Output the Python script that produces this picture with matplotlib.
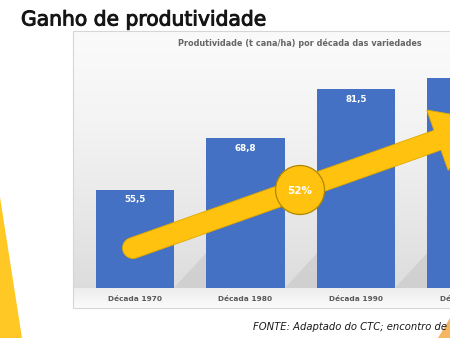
import numpy as np
import matplotlib
matplotlib.use("Agg")
import matplotlib.pyplot as plt
import matplotlib.patheffects as pe
from matplotlib.patches import Polygon, Circle, Rectangle

# ---- data ----
categories = ["Década 1970", "Década 1980", "Década 1990", "Década 2000"]
values = [55.5, 68.8, 81.5, 84.4]
value_labels = ["55,5", "68,8", "81,5", "84,4"]
gain_label = "52%"
slide_title = "Ganho de produtividade"
chart_title = "Produtividade (t cana/ha) por década das variedades"
source_text = "FONTE: Adaptado do CTC; encontro de"

W, H = 450, 338
fig = plt.figure(figsize=(W / 100, H / 100), dpi=100)
fig.patch.set_facecolor("white")

def fx(px):
    return px / W

def fy(py):
    return 1 - py / H

# ---- background (pixel coordinate overlay) ----
bg = fig.add_axes([0, 0, 1, 1], zorder=0)
bg.axis("off")

grad = np.linspace(0, 1, 256)[:, None]
top_c = np.array([0.98, 0.98, 0.98])
bot_c = np.array([0.865, 0.865, 0.865])
img = top_c + (bot_c - top_c) * grad[..., None] ** 1.4
img = np.repeat(img, 2, axis=1)
bg.imshow(img, extent=(73, 460, 288, 31), aspect="auto", zorder=1)
floor = np.linspace(0, 1, 64)[:, None]
f_top = np.array([0.93, 0.93, 0.93])
f_bot = np.array([0.985, 0.985, 0.985])
fimg = f_top + (f_bot - f_top) * floor[..., None]
fimg = np.repeat(fimg, 2, axis=1)
bg.imshow(fimg, extent=(73, 460, 308, 288), aspect="auto", zorder=1)
bg.add_patch(Rectangle((73, 31), 390, 277, fill=False, edgecolor="#d6d6d6", lw=0.8, zorder=2))
bg.set_xlim(0, W)
bg.set_ylim(H, 0)

bg.add_patch(Polygon([(0, 197), (0, 338), (22, 338)], closed=True,
                     facecolor="#FFC825", edgecolor="none", zorder=2))
bg.add_patch(Polygon([(438, 338), (450, 318), (450, 338)], closed=True,
                     facecolor="#F2A43A", edgecolor="none", alpha=0.8, zorder=2))

# ---- chart axes (extends past the right edge, like the cropped slide) ----
ymin = 30
px_per_unit = 3.87
ytop = ymin + (288.3 - 31) / px_per_unit
spacing = 110.5
x0 = 135
right_px = 520
ax = fig.add_axes([fx(73), fy(288.3), fx(right_px) - fx(73), fy(31) - fy(288.3)], zorder=2)
ax.set_facecolor("none")
xs = np.arange(len(categories))

for i, v in enumerate(values):
    sx = i + 0.3545
    ax.add_patch(Polygon([(sx, ymin), (sx + 0.29, ymin), (sx + 0.29, ymin + 9)], closed=True,
                         facecolor="#c8c8c8", edgecolor="none", alpha=0.6, zorder=1))

ax.bar(xs, np.array(values) - ymin, bottom=ymin, width=0.709,
       color="#4471C3", edgecolor="none", zorder=2)
for i, (v, lab) in enumerate(zip(values, value_labels)):
    ax.annotate(lab, (i, v), xytext=(0, -4.2), textcoords="offset points",
                ha="center", va="top", color="white", fontsize=6.3,
                fontweight="bold", zorder=3)

ax.set_xticks(xs)
ax.set_xticklabels(categories, fontsize=5.3, color="#595959", fontweight="bold")
ax.tick_params(axis="x", length=0, pad=5.5)
ax.set_yticks([])
ax.set_xlim((73 - x0) / spacing, (right_px - x0) / spacing)
ax.set_ylim(ymin, ytop)
for s in ax.spines.values():
    s.set_visible(False)

# ---- overlay: arrow & circle ----
ov = fig.add_axes([0, 0, 1, 1], zorder=5)
ov.set_xlim(0, W)
ov.set_ylim(H, 0)
ov.axis("off")
ov.set_facecolor("none")

T = np.array([133.0, 248.0])
u = np.array([0.9426, -0.3338])
n = np.array([0.3338, 0.9426])
w = 10.5
L1, hw, L2 = 323.0, 32.0, 380.0
pts = []
for a in np.linspace(np.pi / 2, 3 * np.pi / 2, 20):
    pts.append(T + w * (np.cos(a) * u + np.sin(a) * n))
pts.append(T + L1 * u - w * n)
pts.append(T + L1 * u - hw * n)
pts.append(T + L2 * u)
pts.append(T + L1 * u + hw * n)
pts.append(T + L1 * u + w * n)
pts.append(T + w * n)
ov.add_patch(Polygon(pts, closed=True, facecolor="#FFC20E", edgecolor="#E0A800",
                     lw=0.6, zorder=5))
ov.add_patch(Circle((300, 190), 24.5, facecolor="#FFC20E", edgecolor="#B38600",
                    lw=0.9, zorder=6))
ov.text(300, 191, gain_label, ha="center", va="center", color="white",
        fontsize=7.5, fontweight="bold", zorder=7)

# ---- texts ----
fig.text(fx(21), fy(20), slide_title, fontsize=14.6, color="#151515",
         ha="left", va="center", zorder=6,
         path_effects=[pe.withStroke(linewidth=0.7, foreground="#151515")])
fig.text(fx(300), fy(43), chart_title, fontsize=5.9, color="#666666",
         fontweight="bold", ha="center", va="center", zorder=6)
fig.text(fx(253), fy(327), source_text, fontsize=7.2, color="#1a1a1a",
         style="italic", ha="left", va="center", zorder=6)

fig.savefig("out.png", dpi=100, facecolor="white")
